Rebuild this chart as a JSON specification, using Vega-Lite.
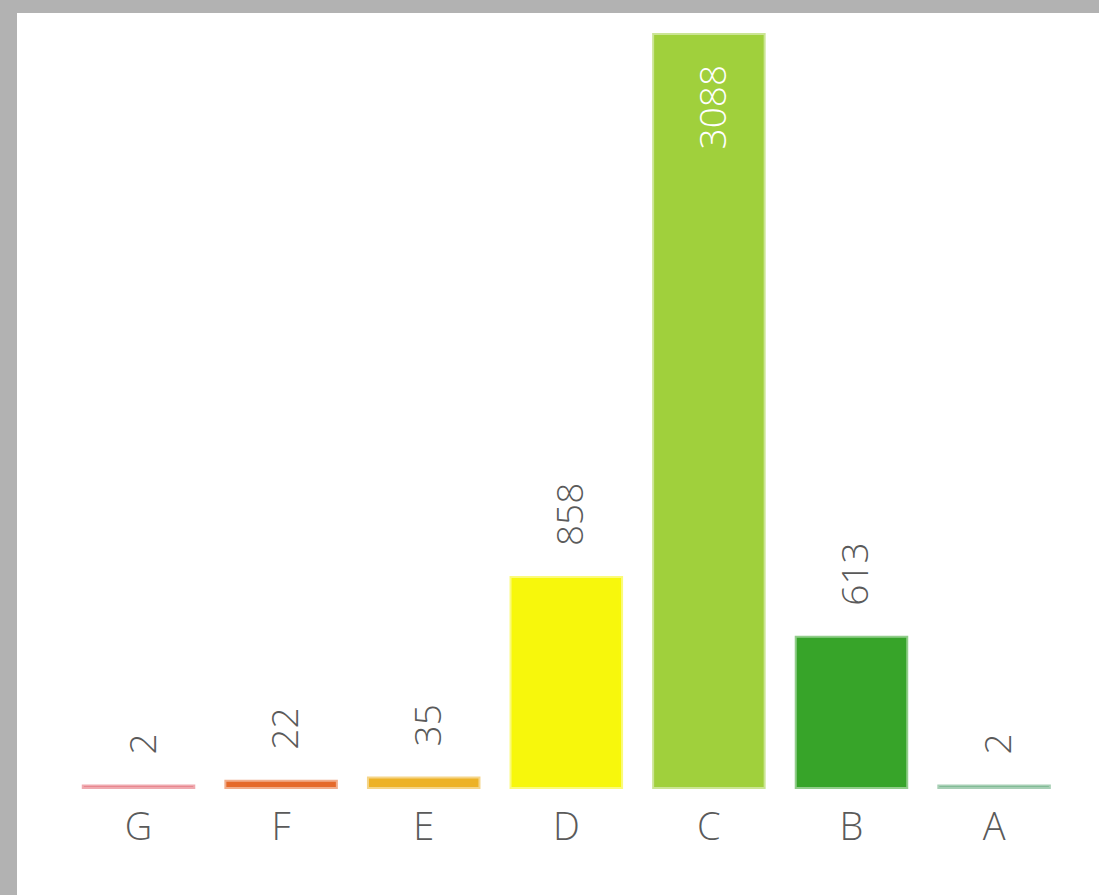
{
  "$schema": "https://vega.github.io/schema/vega-lite/v6.json",
  "width": 1082,
  "height": 882,
  "autosize": {"type": "none"},
  "padding": {"left": 17, "top": 13, "right": 0, "bottom": 0},
  "background": "#b2b2b2",
  "config": {
    "view": {"fill": "white", "stroke": null},
    "font": "Open Sans"
  },
  "data": {
    "values": [
      {"grade": "G", "count": 2},
      {"grade": "F", "count": 22},
      {"grade": "E", "count": 35},
      {"grade": "D", "count": 858},
      {"grade": "C", "count": 3088},
      {"grade": "B", "count": 613},
      {"grade": "A", "count": 2}
    ]
  },
  "encoding": {
    "x": {
      "field": "grade",
      "type": "nominal",
      "sort": ["G", "F", "E", "D", "C", "B", "A"],
      "scale": {"paddingInner": 0.232, "paddingOuter": 0.41, "align": 0.571},
      "axis": {
        "title": null,
        "labelAngle": 0,
        "domain": false,
        "ticks": false,
        "tickSize": 0,
        "grid": false,
        "labelPadding": -56,
        "labelBaseline": "alphabetic",
        "labelFontSize": 38,
        "labelColor": "#5a5a5a",
        "labelFont": "Open Sans",
        "labelFontWeight": 300
      }
    },
    "y": {
      "field": "count",
      "type": "quantitative",
      "scale": {"domain": [-443.5, 3178.3], "nice": false, "zero": false},
      "axis": null
    }
  },
  "layer": [
    {
      "mark": {"type": "bar", "strokeWidth": 4, "strokeOpacity": 0.55},
      "encoding": {
        "y2": {"datum": 0},
        "fill": {
          "field": "grade",
          "type": "nominal",
          "scale": {
            "domain": ["G", "F", "E", "D", "C", "B", "A"],
            "range": ["#e2646f", "#e56a2b", "#edb226", "#f7f70c", "#a0d03c", "#37a429", "#5fa878"]
          },
          "legend": null
        },
        "stroke": {
          "field": "grade",
          "type": "nominal",
          "scale": {
            "domain": ["G", "F", "E", "D", "C", "B", "A"],
            "range": ["#e2646f", "#e56a2b", "#edb226", "#f7f70c", "#a0d03c", "#37a429", "#5fa878"]
          },
          "legend": null
        }
      }
    },
    {
      "transform": [{"filter": "datum.count < 2000"}],
      "mark": {
        "type": "text",
        "angle": 270,
        "align": "left",
        "baseline": "middle",
        "dx": 32,
        "dy": 6,
        "fontSize": 37,
        "fontWeight": 300,
        "color": "#5a5a5a"
      },
      "encoding": {"text": {"field": "count", "type": "quantitative"}}
    },
    {
      "transform": [{"filter": "datum.count >= 2000"}],
      "mark": {
        "type": "text",
        "angle": 270,
        "align": "right",
        "baseline": "middle",
        "dx": -30,
        "dy": 6,
        "fontSize": 37,
        "fontWeight": 300,
        "color": "white"
      },
      "encoding": {"text": {"field": "count", "type": "quantitative"}}
    }
  ]
}
